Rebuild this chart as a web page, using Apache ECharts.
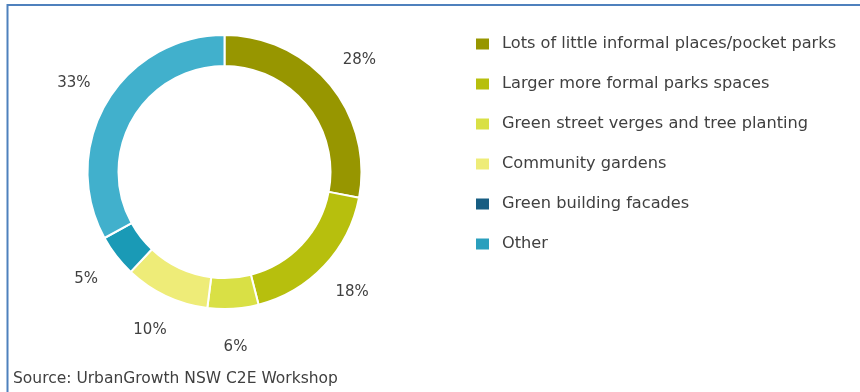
<!DOCTYPE html>
<html>
<head>
<meta charset="utf-8">
<script src="https://cdn.jsdelivr.net/npm/echarts@6/dist/echarts.min.js"></script>
<style>
  html, body { margin: 0; padding: 0; background: #fff; }
  #chart { width: 860px; height: 392px; }
</style>
</head>
<body>
<div id="chart"></div>
<script>
// Preferred types of green space (share of responses)
const categories = [
  'Lots of little informal places/pocket parks',
  'Larger more formal parks spaces',
  'Green street verges and tree planting',
  'Community gardens',
  'Green building facades',
  'Other'
];
const shares = [28, 18, 6, 10, 5, 33];
const sliceColors = ['#979600', '#b7bf0d', '#d9e045', '#eeec78', '#1a9ab6', '#41b0cc'];
const legendColors = ['#979600', '#b7bf0d', '#d9e045', '#eeec78', '#175d82', '#2a9fbd'];
const sourceNote = 'Source: UrbanGrowth NSW C2E Workshop';

const textColor = '#404040';
const fontFamily = '"DejaVu Sans", sans-serif';

// Ring geometry
const ringCenter = [224.5, 172];
const ringRadius = [106, 137];
const labelRadius = 175;

// Mid-angle of each slice (clockwise from 12 o'clock), used to put the
// percentage labels on a circle around the ring.
const total = shares.reduce((a, b) => a + b, 0);
const midAngles = [];
let acc = 0;
shares.forEach(v => {
  midAngles.push((acc + v / 2) / total * Math.PI * 2);
  acc += v;
});

const chart = echarts.init(document.getElementById('chart'), null, { renderer: 'canvas' });

chart.setOption({
  animation: false,
  backgroundColor: '#ffffff',
  legend: {
    orient: 'vertical',
    left: 471,
    top: 31,
    itemWidth: 13,
    itemHeight: 11,
    itemGap: 24,
    icon: 'rect',
    textStyle: { color: textColor, fontSize: 16.2, fontFamily: fontFamily, padding: [0, 0, 0, 8] },
    data: categories.map((name, i) => ({
      name: name,
      itemStyle: { color: legendColors[i], borderWidth: 0 }
    }))
  },
  graphic: [
    { type: 'line', shape: { x1: 7, y1: 5, x2: 860, y2: 5 }, style: { stroke: '#4f81bd', lineWidth: 2 } },
    { type: 'line', shape: { x1: 7.5, y1: 4, x2: 7.5, y2: 392 }, style: { stroke: '#4f81bd', lineWidth: 2 } },
    {
      type: 'text', left: 13, top: 371,
      style: { text: sourceNote, fill: textColor, fontSize: 15.5, fontFamily: fontFamily }
    }
  ],
  series: [{
    type: 'pie',
    center: ringCenter,
    radius: ringRadius,
    startAngle: 90,
    clockwise: true,
    avoidLabelOverlap: false,
    itemStyle: { borderColor: '#ffffff', borderWidth: 2 },
    label: {
      show: true,
      position: 'outside',
      formatter: '{c}%',
      color: textColor,
      fontSize: 15,
      fontFamily: fontFamily
    },
    labelLine: { show: false },
    labelLayout: function (params) {
      const a = midAngles[params.dataIndex];
      return {
        x: ringCenter[0] + Math.sin(a) * labelRadius,
        y: ringCenter[1] - Math.cos(a) * labelRadius,
        align: 'center',
        verticalAlign: 'middle'
      };
    },
    emphasis: { disabled: true },
    data: categories.map((name, i) => ({
      name: name,
      value: shares[i],
      itemStyle: { color: sliceColors[i] }
    }))
  }]
});
</script>
</body>
</html>
